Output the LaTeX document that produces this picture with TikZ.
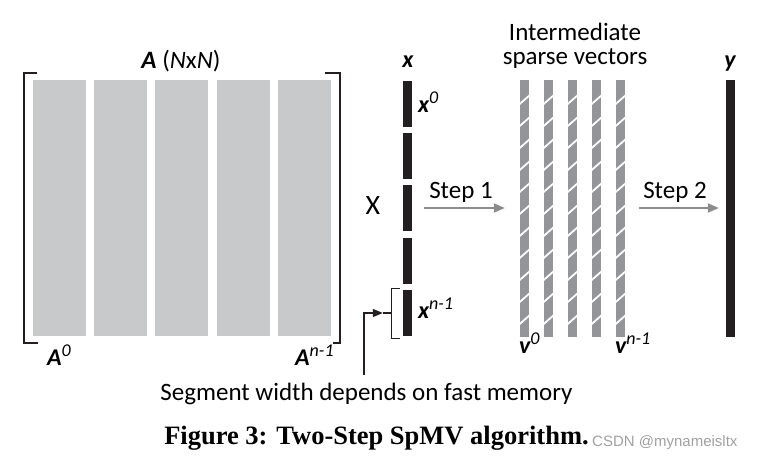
\documentclass[tikz,border=0pt]{standalone}
\usepackage{fontspec}
\setmainfont{Carlito}
\newfontfamily\capfont{Liberation Serif}
\newfontfamily\wmfont{Liberation Sans}
\usetikzlibrary{arrows.meta}
\definecolor{ink}{HTML}{231F20}
\definecolor{blockgray}{HTML}{C8C9CB}
\definecolor{vecgray}{HTML}{939598}
\definecolor{arrowgray}{HTML}{8A8B8D}
\definecolor{wmgray}{HTML}{A0A0A0}
\newcommand{\sps}[1]{\raisebox{0.36em}{\fontsize{18}{18}\selectfont\mdseries\itshape #1}}
\tikzset{
  lbl/.style={font=\fontsize{25}{24}\selectfont, inner sep=0pt, anchor=base},
  bilbl/.style={font=\fontsize{24}{24}\selectfont\bfseries\itshape, inner sep=0pt, anchor=base},
  block/.style={fill=blockgray, draw=none, minimum width=53pt, minimum height=256pt, inner sep=0pt},
  xseg/.style={fill=ink, draw=none, minimum width=9pt, minimum height=46pt, inner sep=0pt},
  vbar/.style={fill=vecgray, draw=none, minimum width=9pt, minimum height=257pt, inner sep=0pt},
  ybar/.style={fill=ink, draw=none, minimum width=9pt, minimum height=257pt, inner sep=0pt},
  bracketline/.style={draw=ink, line width=2.7pt},
  thinline/.style={draw=ink, line width=1.3pt},
  garrow/.style={draw=arrowgray, line width=2pt, -{Triangle[length=11pt,width=9pt]}},
  stripe/.style={draw=white, line width=1.8pt},
}
\begin{document}
\begin{tikzpicture}[x=1pt, y=-1pt]
\useasboundingbox (0,0) rectangle (763,460);

% matrix A blocks
\foreach \i/\cx in {0/59.5,1/120.5,2/181.5,3/243.5,4/304.5}
  \node[block] (A\i) at (\cx,208) {};
% brackets
\draw[bracketline] (37,73) -- (24,73) -- (24,343) -- (38,343);
\draw[bracketline] (325,73) -- (340,73) -- (340,343) -- (333,343);
\node[lbl] (Atitle) at (181,69) {\textbf{\textit{A}} (\textit{N}x\textit{N})};
\node[bilbl, anchor=base west] (A0lbl) at (47,365) {A\sps{0}};
\node[bilbl, anchor=base west] (Anlbl) at (295,365) {A\sps{n-1}};

% times sign
\node[lbl, anchor=base, font=\fontsize{28}{28}\selectfont] (times) at (373,214) {X};

% vector x
\foreach \i/\cy in {0/104,1/156,2/208,3/261,4/313}
  \node[xseg] (xs\i) at (407.5,\cy) {};
\node[bilbl] (xlbl) at (408,67) {x};
\node[bilbl, anchor=base west] (x0lbl) at (418,112) {x\sps{0}};
\node[bilbl, anchor=base west] (xnlbl) at (418,318) {x\sps{n-1}};

% bracket on last segment
\draw[thinline] ([xshift=-3pt,yshift=1pt]xs4.north west) -- ([xshift=-11pt,yshift=1pt]xs4.north west)
  -- ([xshift=-11pt,yshift=-2pt]xs4.south west) -- ([xshift=-3pt,yshift=-2pt]xs4.south west);
\coordinate (tickmid) at ([xshift=-11pt]xs4.west);
\coordinate (tickend) at ([xshift=-20pt]xs4.west);
\draw[thinline] (tickmid) -- (tickend);

% segment note
\node[lbl] (seg) at (366.5,400) {Segment width depends on fast memory};
\coordinate (segtop) at (364,375);
\draw[thinline, -{Triangle[length=10pt,width=8pt]}] (segtop) |- (tickend);

% step 1
\foreach \i/\cx in {0/524.5,1/548.5,2/572.5,3/596.5,4/620.5}{
  \node[vbar] (v\i) at (\cx,208.5) {};
  \begin{scope}
    \clip (v\i.north west) rectangle (v\i.south east);
    \foreach \k in {0,...,10}
      \draw[stripe] ([xshift=-1pt,yshift={-(20+22*\k+5)*1pt}]v\i.north west)
        -- ([xshift=1pt,yshift={-(20+22*\k-5)*1pt}]v\i.north east);
  \end{scope}
}
\draw[garrow] ([xshift=12pt]xs2.east) -- ([xshift=-15pt]v0.west |- xs2.east);
\node[lbl] (step1) at (461,198) {Step 1};
\node[lbl] (inter1) at (575,41) {Intermediate};
\node[lbl] (inter2) at (575,65) {sparse vectors};
\node[bilbl, anchor=base west] (v0lbl) at (519,353) {v\sps{0}};
\node[bilbl, anchor=base west] (vnlbl) at (615,353) {v\sps{n-1}};

% step 2 and y
\node[ybar] (ybar) at (730.5,208.5) {};
\node[bilbl] (ylbl) at (730,67) {y};
\draw[garrow] ([xshift=14pt]v4.east |- xs2.east) -- ([xshift=-7pt]ybar.west |- xs2.east);
\node[lbl] (step2) at (675,198) {Step 2};

% caption
\node[inner sep=0pt, anchor=base] (caption) at (376.5,444) {\capfont\bfseries\fontsize{26.5}{28}\selectfont Figure 3: Two-Step SpMV algorithm.};
\node[inner sep=0pt, anchor=base west, text=wmgray] (wm) at (592,446) {\wmfont\fontsize{15}{16}\selectfont CSDN @mynameisltx};
\end{tikzpicture}
\end{document}
